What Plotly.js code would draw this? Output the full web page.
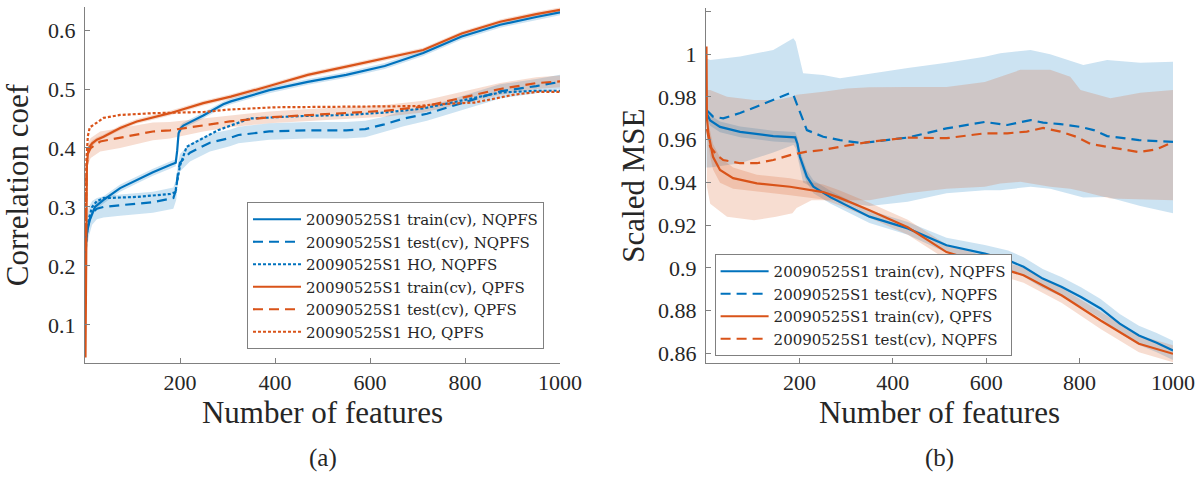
<!DOCTYPE html>
<html>
<head>
<meta charset="utf-8">
<script src="https://cdn.plot.ly/plotly-3.0.1.min.js"></script>
<style>html,body{margin:0;padding:0;background:#fff;}#chart{width:1201px;height:479px;}</style>
</head>
<body>
<div id="chart"></div>
<script>
// ---------------- (a) Correlation coef ----------------
const bTrainX = [1,2,5,10,21,39,74,109,143,179,191,194,197,202,207,249,291,307,388,469,550,631,712,793,874,950,1000];
const bTrainY = [0.215,0.24,0.26,0.278,0.30,0.312,0.332,0.346,0.359,0.371,0.375,0.395,0.425,0.434,0.438,0.455,0.474,0.479,0.498,0.512,0.524,0.539,0.561,0.589,0.609,0.622,0.630];
const bTrainS = [0.01,0.01,0.008,0.007,0.006,0.006,0.006,0.006,0.006,0.006,0.006,0.008,0.008,0.006,0.005,0.005,0.005,0.005,0.005,0.005,0.005,0.005,0.005,0.005,0.005,0.005,0.005];

const bTestX = [1,3,8,15,25,39,74,143,186,192,196,200,221,263,305,323,388,470,550,590,630,671,720,793,874,950,1000];
const bTestY = [0.215,0.25,0.275,0.29,0.297,0.30,0.303,0.308,0.315,0.33,0.36,0.375,0.392,0.409,0.417,0.422,0.428,0.43,0.43,0.432,0.44,0.45,0.458,0.476,0.496,0.505,0.512];
const bTestS = [0.03,0.03,0.025,0.02,0.018,0.018,0.018,0.018,0.018,0.018,0.016,0.015,0.015,0.015,0.014,0.014,0.014,0.014,0.014,0.014,0.013,0.013,0.012,0.012,0.012,0.012,0.012];

const bHoX = [1,3,8,15,25,39,109,179,190,194,200,214,249,280,347,450,550,630,712,793,874,950,1000];
const bHoY = [0.215,0.25,0.28,0.30,0.31,0.315,0.317,0.322,0.325,0.345,0.37,0.402,0.417,0.43,0.45,0.454,0.456,0.46,0.467,0.481,0.494,0.497,0.497];

const oTrainX = [1,2,3,4,6,8,15,25,39,74,109,143,179,249,307,388,469,550,631,712,793,874,950,1000];
const oTrainY = [0.045,0.2,0.33,0.37,0.39,0.40,0.408,0.414,0.419,0.434,0.445,0.452,0.459,0.476,0.487,0.505,0.524,0.538,0.552,0.566,0.594,0.614,0.627,0.634];
const oTrainS = [0.004,0.01,0.01,0.008,0.006,0.005,0.005,0.004,0.004,0.004,0.004,0.004,0.004,0.004,0.004,0.004,0.004,0.004,0.004,0.004,0.004,0.004,0.004,0.004];

const oTestX = [1,2,3,6,12,32,74,143,179,249,305,388,470,550,630,712,793,874,950,1000];
const oTestY = [0.2,0.3,0.36,0.39,0.40,0.411,0.417,0.428,0.43,0.439,0.445,0.452,0.456,0.459,0.463,0.47,0.485,0.5,0.51,0.513];
const oTestS = [0.02,0.02,0.02,0.018,0.017,0.017,0.017,0.015,0.014,0.011,0.01,0.01,0.01,0.01,0.01,0.01,0.01,0.01,0.01,0.01];

const oHoX = [1,2,3,6,10,25,39,74,143,249,300,400,550,700,740,820,870,900,950,1000];
const oHoY = [0.2,0.3,0.38,0.42,0.435,0.443,0.451,0.456,0.459,0.461,0.465,0.469,0.47,0.471,0.474,0.477,0.485,0.49,0.495,0.495];

// ---------------- (b) Scaled MSE ----------------
const rbTrainX = [1,9,30,73,144,191,196,201,216,230,267,309,350,432,515,597,647,680,721,762,803,845,886,927,965,1000];
const rbTrainY = [0.9725,0.969,0.966,0.9637,0.9617,0.9611,0.958,0.952,0.9427,0.938,0.933,0.9285,0.924,0.9185,0.9106,0.9067,0.9036,0.9005,0.895,0.8911,0.8864,0.881,0.8739,0.8684,0.865,0.8614];
const rbTrainS = [0.0025,0.0025,0.0025,0.0025,0.0025,0.0025,0.003,0.003,0.003,0.003,0.003,0.003,0.003,0.003,0.0035,0.004,0.0045,0.0045,0.0045,0.0045,0.0045,0.0045,0.0045,0.0045,0.0045,0.0045];

const roTrainX = [1,2,5,9,15,30,58,109,180,251,284,350,432,515,597,680,762,845,927,965,1000];
const roTrainY = [1.0036,0.97,0.963,0.958,0.952,0.9458,0.942,0.9396,0.938,0.9355,0.933,0.927,0.919,0.9074,0.902,0.8966,0.8871,0.8754,0.8645,0.862,0.8598];
const roTrainS = [0.003,0.004,0.005,0.006,0.006,0.006,0.005,0.004,0.004,0.0035,0.0035,0.0035,0.0035,0.0035,0.0035,0.0035,0.0035,0.004,0.004,0.004,0.004];

const rbTestX = [1,15,37,73,109,144,180,187,194,205,216,251,287,333,432,515,597,645,695,722,759,802,830,859,927,1000];
const rbTestY = [0.9739,0.9708,0.970,0.9725,0.9755,0.9786,0.9818,0.981,0.977,0.9708,0.9645,0.9614,0.9598,0.9584,0.961,0.9653,0.9683,0.9669,0.9692,0.968,0.9673,0.966,0.9645,0.9617,0.9598,0.959];
const rbBandX = [1,9,73,144,187,192,208,251,287,350,432,515,597,630,695,737,773,808,859,930,1000];
const rbBandHi = [0.998,0.9973,0.9989,1.002,1.0075,1.006,0.9911,0.9903,0.9888,0.991,0.9936,0.996,0.9988,1.0005,1.002,1.0,0.9973,0.995,0.9973,0.996,0.9965];
const rbBandLo = [0.947,0.947,0.949,0.954,0.9575,0.956,0.94,0.935,0.931,0.929,0.931,0.935,0.9364,0.9364,0.938,0.937,0.9348,0.933,0.9332,0.929,0.9256];

const roTestX = [2,9,23,37,73,109,144,180,216,251,287,350,432,515,597,645,687,722,759,795,823,859,927,965,1000];
const roTestY = [0.965,0.9567,0.9528,0.9505,0.949,0.949,0.9505,0.9528,0.9544,0.9552,0.9567,0.959,0.961,0.9607,0.963,0.963,0.9638,0.9655,0.9638,0.9612,0.958,0.9567,0.9542,0.9555,0.959];
const roBandX = [2,9,45,103,150,185,194,226,251,302,350,432,515,597,630,673,737,780,802,866,930,1000];
const roBandHi = [0.9833,0.9833,0.9801,0.9786,0.9786,0.9801,0.981,0.982,0.9825,0.984,0.9845,0.9847,0.9847,0.987,0.9895,0.9927,0.9927,0.9895,0.9833,0.9794,0.982,0.9833];
const roBandLo = [0.938,0.93,0.924,0.9223,0.924,0.9256,0.928,0.9317,0.9317,0.9317,0.9317,0.935,0.937,0.938,0.9395,0.9403,0.938,0.9371,0.936,0.9325,0.932,0.9317];

const legendA = ['20090525S1 train(cv), NQPFS','20090525S1 test(cv), NQPFS','20090525S1 HO, NQPFS','20090525S1 train(cv), QPFS','20090525S1 test(cv), QPFS','20090525S1 HO, QPFS'];
const legendB = ['20090525S1 train(cv), NQPFS','20090525S1 test(cv), NQPFS','20090525S1 train(cv), QPFS','20090525S1 test(cv), NQPFS'];
const xTicks = [200,400,600,800,1000];
const yTicksA = [0.1,0.2,0.3,0.4,0.5,0.6];
const yTicksB = [0.86,0.88,0.9,0.92,0.94,0.96,0.98,1,1.02];
const yTickTextB = ['0.86','0.88','0.9','0.92','0.94','0.96','0.98','1','1.02'];

const BLUE = '#0072BD', ORANGE = '#D95319';
const BLUE_F = 'rgba(0,114,189,0.2)', ORANGE_F = 'rgba(217,83,25,0.2)';
const DASH = '10px,6px', DOT = '3px,2px';
const FONT = "'Liberation Serif', serif";
const LFONT = "'DejaVu Serif', serif";

function bandFromStd(x, y, s, color, xa, ya) {
  const hi = y.map((v,i)=>v+s[i]);
  const lo = y.map((v,i)=>v-s[i]);
  return bandLoHi(x, lo, hi, color, xa, ya);
}
function bandLoHi(x, lo, hi, color, xa, ya) {
  return {x: x.concat(x.slice().reverse()), y: hi.concat(lo.slice().reverse()),
    type:'scatter', mode:'lines', fill:'toself', fillcolor: color, line:{width:0},
    hoverinfo:'skip', showlegend:false, xaxis:xa, yaxis:ya};
}
function line(x, y, color, dash, name, xa, ya, leg) {
  return {x:x, y:y, type:'scatter', mode:'lines', name:name,
    line:{color:color, width:2.2, dash:dash}, xaxis:xa, yaxis:ya, legend:leg};
}

const traces = [
  bandFromStd(bTrainX,bTrainY,bTrainS,BLUE_F,'x','y'),
  bandFromStd(bTestX,bTestY,bTestS,BLUE_F,'x','y'),
  bandFromStd(oTrainX,oTrainY,oTrainS,ORANGE_F,'x','y'),
  bandFromStd(oTestX,oTestY,oTestS,ORANGE_F,'x','y'),
  line(bTrainX,bTrainY,BLUE,'solid',legendA[0],'x','y','legend'),
  line(bTestX,bTestY,BLUE,DASH,legendA[1],'x','y','legend'),
  line(bHoX,bHoY,BLUE,DOT,legendA[2],'x','y','legend'),
  line(oTrainX,oTrainY,ORANGE,'solid',legendA[3],'x','y','legend'),
  line(oTestX,oTestY,ORANGE,DASH,legendA[4],'x','y','legend'),
  line(oHoX,oHoY,ORANGE,DOT,legendA[5],'x','y','legend'),

  bandFromStd(rbTrainX,rbTrainY,rbTrainS,BLUE_F,'x2','y2'),
  bandLoHi(rbBandX,rbBandLo,rbBandHi,BLUE_F,'x2','y2'),
  bandFromStd(roTrainX,roTrainY,roTrainS,ORANGE_F,'x2','y2'),
  bandLoHi(roBandX,roBandLo,roBandHi,ORANGE_F,'x2','y2'),
  line(rbTrainX,rbTrainY,BLUE,'solid',legendB[0],'x2','y2','legend2'),
  line(rbTestX,rbTestY,BLUE,DASH,legendB[1],'x2','y2','legend2'),
  line(roTrainX,roTrainY,ORANGE,'solid',legendB[2],'x2','y2','legend2'),
  line(roTestX,roTestY,ORANGE,DASH,legendB[3],'x2','y2','legend2')
];

const axisCommon = {
  showline:true, linecolor:'#808080', linewidth:1, ticks:'inside', ticklen:5, tickcolor:'#808080',
  showgrid:false, zeroline:false, tickfont:{family:FONT, size:22, color:'#262626'}
};
const legendCommon = {
  font:{family:LFONT, size:15, color:'#262626'}, bgcolor:'#ffffff', bordercolor:'#808080', borderwidth:1,
  xanchor:'left', yanchor:'top', tracegroupgap:0, itemwidth:48
};

const layout = {
  width:1201, height:479, margin:{l:0,r:0,t:0,b:0},
  paper_bgcolor:'#ffffff', plot_bgcolor:'rgba(0,0,0,0)', showlegend:true,
  xaxis: Object.assign({}, axisCommon, {domain:[85/1201, 560/1201], range:[0,1000], tickvals:xTicks,
    ticklabelstandoff:0, anchor:'y',
    title:{text:'Number of features', font:{family:FONT, size:31, color:'#262626'}, standoff:4}}),
  yaxis: Object.assign({}, axisCommon, {domain:[116.3/479, 471.7/479], range:[0.036,0.6385], tickvals:yTicksA,
    ticktext:yTicksA.map(String), ticklabelstandoff:4, anchor:'x',
    title:{text:'Correlation coef', font:{family:FONT, size:31, color:'#262626'}, standoff:12}}),
  xaxis2: Object.assign({}, axisCommon, {domain:[706/1201, 1173/1201], range:[0,1000], tickvals:xTicks,
    ticklabelstandoff:0, anchor:'y2',
    title:{text:'Number of features', font:{family:FONT, size:31, color:'#262626'}, standoff:4}}),
  yaxis2: Object.assign({}, axisCommon, {domain:[116/479, 470.7/479], range:[0.8555,1.0215], tickvals:yTicksB,
    ticktext:yTickTextB, ticklabelstandoff:4, anchor:'x2',
    title:{text:'Scaled MSE', font:{family:FONT, size:31, color:'#262626'}, standoff:4}}),
  legend: Object.assign({}, legendCommon, {x:247/1201, y:(479-202)/479}),
  legend2: Object.assign({}, legendCommon, {x:714.6/1201, y:(479-254)/479}),
  annotations:[
    {text:'(a)', x:322.5/1201, y:(479-458)/479, xref:'paper', yref:'paper', showarrow:false,
     xanchor:'center', yanchor:'middle', font:{family:FONT, size:25, color:'#262626'}},
    {text:'(b)', x:939.5/1201, y:(479-458)/479, xref:'paper', yref:'paper', showarrow:false,
     xanchor:'center', yanchor:'middle', font:{family:FONT, size:25, color:'#262626'}}
  ]
};

Plotly.newPlot('chart', traces, layout, {displayModeBar:false, staticPlot:true});
</script>
</body>
</html>
